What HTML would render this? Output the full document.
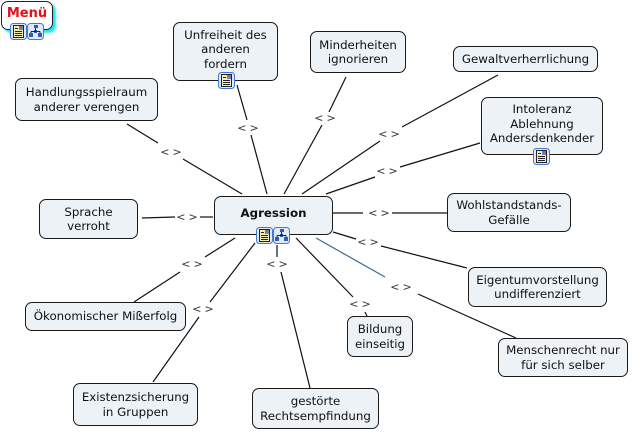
<!DOCTYPE html>
<html><head><meta charset="utf-8"><style>
html,body{margin:0;padding:0;background:#fff;}
body{width:632px;height:432px;position:relative;overflow:hidden;font-family:"DejaVu Sans","Liberation Sans",sans-serif;}
.n{position:absolute;box-sizing:border-box;border:1px solid #1a1a1a;border-radius:7px;background:#ecf2f5;display:flex;align-items:center;justify-content:center;text-align:center;font-size:11.8px;line-height:14.5px;color:#111;}
.l{position:absolute;font-size:11px;letter-spacing:3px;color:#333;transform:translate(-50%,-50%);line-height:11px;white-space:nowrap;padding-left:3px;}
.ic{position:absolute;width:17px;height:17px;}
svg.lines{position:absolute;left:0;top:0;}
</style></head><body>
<svg class="lines" width="632" height="432">
<g stroke="#111" stroke-width="1.2" fill="none">
<line x1="127" y1="124" x2="158" y2="143"/><line x1="183" y1="159" x2="242" y2="194"/>
<line x1="237" y1="85" x2="247" y2="120"/><line x1="251" y1="135" x2="267" y2="194"/>
<line x1="346" y1="77" x2="329" y2="112"/><line x1="322" y1="125" x2="284" y2="194"/>
<line x1="498" y1="75" x2="402" y2="127"/><line x1="380" y1="141" x2="302" y2="194"/>
<line x1="480" y1="143" x2="400" y2="167"/><line x1="375" y1="177" x2="326" y2="194"/>
<line x1="142" y1="218" x2="175" y2="217"/><line x1="200" y1="217" x2="213" y2="217"/>
<line x1="333" y1="213" x2="363" y2="213"/><line x1="392" y1="213" x2="447" y2="213"/>
<line x1="333" y1="232" x2="356" y2="239"/><line x1="381" y1="246" x2="467" y2="268"/>
<line x1="418" y1="294" x2="516" y2="338"/>
<line x1="296" y1="238" x2="353" y2="297"/><line x1="365" y1="312" x2="367" y2="316"/>
<line x1="277" y1="245" x2="277" y2="257"/><line x1="281" y1="272" x2="310" y2="388"/>
<line x1="255" y1="243" x2="210" y2="302"/><line x1="199" y1="317" x2="153" y2="382"/>
<line x1="235" y1="238" x2="205" y2="257"/><line x1="180" y1="272" x2="134" y2="302"/>
</g>
<line x1="316" y1="238" x2="385" y2="277" stroke="#3d6a92" stroke-width="1.2"/>
</svg>

<!-- Menu -->
<div style="position:absolute;left:1px;top:1px;width:52px;height:29px;box-sizing:border-box;border:1px solid #222;border-radius:7px;background:#fff;box-shadow:3px 3px 2px #22e4f4;"></div>
<div style="position:absolute;left:1px;top:6px;width:52px;text-align:center;font-weight:bold;font-size:13px;color:#e3101a;line-height:15px;">Menü</div>

<div class="n" style="left:15px;top:78px;width:143px;height:43px;">Handlungsspielraum<br>anderer verengen</div>
<div class="n" style="left:173px;top:22px;width:105px;height:59px;padding-bottom:4px;">Unfreiheit des<br>anderen<br>fordern</div>
<div class="n" style="left:310px;top:31px;width:96px;height:42px;">Minderheiten<br>ignorieren</div>
<div class="n" style="left:453px;top:46px;width:145px;height:26px;">Gewaltverherrlichung</div>
<div class="n" style="left:481px;top:97px;width:122px;height:58px;padding-bottom:4px;">Intoleranz<br>Ablehnung<br>Andersdenkender</div>
<div class="n" style="left:214px;top:196px;width:119px;height:39px;padding-bottom:5px;font-weight:bold;">Agression</div>
<div class="n" style="left:39px;top:199px;width:99px;height:40px;">Sprache<br>verroht</div>
<div class="n" style="left:25px;top:302px;width:161px;height:29px;">Ökonomischer Mißerfolg</div>
<div class="n" style="left:447px;top:193px;width:124px;height:39px;">Wohlstandstands-<br>Gefälle</div>
<div class="n" style="left:468px;top:267px;width:139px;height:40px;">Eigentumvorstellung<br>undifferenziert</div>
<div class="n" style="left:347px;top:316px;width:66px;height:41px;">Bildung<br>einseitig</div>
<div class="n" style="left:498px;top:338px;width:130px;height:39px;">Menschenrecht nur<br>für sich selber</div>
<div class="n" style="left:73px;top:383px;width:125px;height:43px;">Existenzsicherung<br>in Gruppen</div>
<div class="n" style="left:252px;top:388px;width:127px;height:41px;">gestörte<br>Rechtsempfindung</div>

<!-- link labels -->
<div class="l" style="left:171px;top:152px;">&lt;&gt;</div>
<div class="l" style="left:248px;top:128px;">&lt;&gt;</div>
<div class="l" style="left:325px;top:118px;">&lt;&gt;</div>
<div class="l" style="left:389px;top:134px;">&lt;&gt;</div>
<div class="l" style="left:387px;top:171px;">&lt;&gt;</div>
<div class="l" style="left:187px;top:217px;">&lt;&gt;</div>
<div class="l" style="left:379px;top:213px;">&lt;&gt;</div>
<div class="l" style="left:368px;top:242px;">&lt;&gt;</div>
<div class="l" style="left:401px;top:287px;">&lt;&gt;</div>
<div class="l" style="left:360px;top:304px;">&lt;&gt;</div>
<div class="l" style="left:277px;top:264px;">&lt;&gt;</div>
<div class="l" style="left:203px;top:309px;">&lt;&gt;</div>
<div class="l" style="left:192px;top:264px;">&lt;&gt;</div>

<!-- icons -->
<svg class="ic" style="left:10px;top:23px;" viewBox="0 0 17 17"><rect x="0.5" y="0.5" width="16" height="16" rx="3" fill="#dfe9f8" stroke="#3e78d8"/><rect x="3.5" y="2.5" width="10" height="12" fill="#f3eeb4" stroke="#222"/><rect x="9" y="3" width="4" height="4" fill="#5a8ad8"/><rect x="10" y="3" width="2" height="2" fill="#d84a3a"/><g stroke="#222"><line x1="5" y1="5.5" x2="8" y2="5.5"/><line x1="5" y1="8.5" x2="12" y2="8.5"/><line x1="5" y1="10.5" x2="12" y2="10.5"/><line x1="5" y1="12.5" x2="12" y2="12.5"/></g></svg>
<svg class="ic" style="left:27px;top:23px;" viewBox="0 0 17 17"><rect x="0.5" y="0.5" width="16" height="16" rx="3" fill="#dfe9f8" stroke="#3e78d8"/><g fill="#2a5cb8"><rect x="7" y="2" width="4" height="3"/><rect x="2" y="10" width="4" height="4"/><rect x="11" y="10" width="4" height="4"/><rect x="7" y="7" width="3" height="3"/></g><g stroke="#222" fill="none"><line x1="8.5" y1="5" x2="8.5" y2="8"/><line x1="4" y1="8.5" x2="13" y2="8.5"/><line x1="4" y1="8.5" x2="4" y2="10"/><line x1="13" y1="8.5" x2="13" y2="10"/></g></svg>

<svg class="ic" style="left:218px;top:72px;" viewBox="0 0 17 17"><rect x="0.5" y="0.5" width="16" height="16" rx="3" fill="#dfe9f8" stroke="#3e78d8"/><rect x="3.5" y="2.5" width="10" height="12" fill="#f3eeb4" stroke="#222"/><rect x="9" y="3" width="4" height="4" fill="#5a8ad8"/><rect x="10" y="3" width="2" height="2" fill="#d84a3a"/><g stroke="#222"><line x1="5" y1="5.5" x2="8" y2="5.5"/><line x1="5" y1="8.5" x2="12" y2="8.5"/><line x1="5" y1="10.5" x2="12" y2="10.5"/><line x1="5" y1="12.5" x2="12" y2="12.5"/></g></svg>

<svg class="ic" style="left:533px;top:148px;" viewBox="0 0 17 17"><rect x="0.5" y="0.5" width="16" height="16" rx="3" fill="#dfe9f8" stroke="#3e78d8"/><rect x="3.5" y="2.5" width="10" height="12" fill="#f3eeb4" stroke="#222"/><rect x="9" y="3" width="4" height="4" fill="#5a8ad8"/><rect x="10" y="3" width="2" height="2" fill="#d84a3a"/><g stroke="#222"><line x1="5" y1="5.5" x2="8" y2="5.5"/><line x1="5" y1="8.5" x2="12" y2="8.5"/><line x1="5" y1="10.5" x2="12" y2="10.5"/><line x1="5" y1="12.5" x2="12" y2="12.5"/></g></svg>

<svg class="ic" style="left:256px;top:227px;" viewBox="0 0 17 17"><rect x="0.5" y="0.5" width="16" height="16" rx="3" fill="#dfe9f8" stroke="#3e78d8"/><rect x="3.5" y="2.5" width="10" height="12" fill="#f3eeb4" stroke="#222"/><rect x="9" y="3" width="4" height="4" fill="#5a8ad8"/><rect x="10" y="3" width="2" height="2" fill="#d84a3a"/><g stroke="#222"><line x1="5" y1="5.5" x2="8" y2="5.5"/><line x1="5" y1="8.5" x2="12" y2="8.5"/><line x1="5" y1="10.5" x2="12" y2="10.5"/><line x1="5" y1="12.5" x2="12" y2="12.5"/></g></svg>
<svg class="ic" style="left:273px;top:227px;" viewBox="0 0 17 17"><rect x="0.5" y="0.5" width="16" height="16" rx="3" fill="#dfe9f8" stroke="#3e78d8"/><g fill="#2a5cb8"><rect x="7" y="2" width="4" height="3"/><rect x="2" y="10" width="4" height="4"/><rect x="11" y="10" width="4" height="4"/><rect x="7" y="7" width="3" height="3"/></g><g stroke="#222" fill="none"><line x1="8.5" y1="5" x2="8.5" y2="8"/><line x1="4" y1="8.5" x2="13" y2="8.5"/><line x1="4" y1="8.5" x2="4" y2="10"/><line x1="13" y1="8.5" x2="13" y2="10"/></g></svg>
</body></html>
